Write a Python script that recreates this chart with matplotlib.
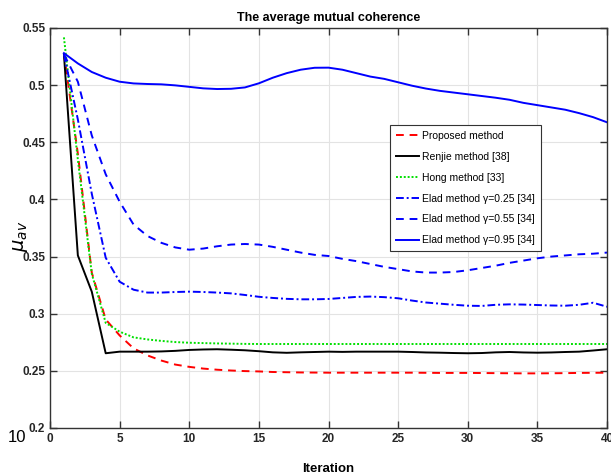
import matplotlib
matplotlib.use("Agg")
import matplotlib.pyplot as plt
from matplotlib import font_manager

names = {f.name for f in font_manager.fontManager.ttflist}
FAM = 'Liberation Sans Narrow' if 'Liberation Sans Narrow' in names else 'Liberation Sans'
plt.rcParams['font.family'] = [FAM, 'DejaVu Sans']

iterations = list(range(1, 41))

proposed = [0.528, 0.440, 0.336, 0.295, 0.281, 0.2697, 0.2635, 0.259, 0.2555, 0.2535,
            0.252, 0.251, 0.2503, 0.2498, 0.2495, 0.249, 0.2488, 0.2486, 0.2485, 0.2484,
            0.2484, 0.2484, 0.2484, 0.2484, 0.2484, 0.2484, 0.2483, 0.2482, 0.2482, 0.2482,
            0.2481, 0.248, 0.2479, 0.2478, 0.2478, 0.2479, 0.248, 0.2482, 0.2483, 0.2484]

renjie = [0.527, 0.351, 0.3193, 0.2654, 0.2668, 0.2668, 0.2668, 0.267, 0.2675, 0.2683,
          0.2687, 0.2689, 0.2685, 0.268, 0.2672, 0.2662, 0.2658, 0.2662, 0.2665, 0.2668,
          0.2666, 0.2668, 0.2668, 0.2668, 0.2668, 0.2665, 0.2661, 0.2659, 0.2656, 0.2654,
          0.2656, 0.2662, 0.2665, 0.2661, 0.2659, 0.2661, 0.2665, 0.2668, 0.2678, 0.2689]

hong = [0.5418, 0.4348, 0.335, 0.292, 0.2843, 0.2793, 0.2775, 0.2762, 0.2752, 0.2746,
        0.2743, 0.274, 0.2738, 0.2736, 0.2735, 0.2735, 0.2735, 0.2735, 0.2735, 0.2735,
        0.2735, 0.2735, 0.2735, 0.2735, 0.2735, 0.2735, 0.2735, 0.2735, 0.2735, 0.2735,
        0.2735, 0.2735, 0.2735, 0.2735, 0.2735, 0.2735, 0.2735, 0.2735, 0.2735, 0.2735]

elad025 = [0.527, 0.470, 0.405, 0.349, 0.328, 0.321, 0.3185, 0.3185, 0.319, 0.3193,
           0.319, 0.3185, 0.3178, 0.3164, 0.3148, 0.3138, 0.313, 0.3126, 0.3126, 0.3129,
           0.3138, 0.3147, 0.315, 0.3145, 0.3135, 0.3115, 0.3098, 0.3088, 0.3078, 0.307,
           0.3068, 0.3078, 0.3082, 0.308, 0.3076, 0.3072, 0.307, 0.3078, 0.3096, 0.3061]

elad055 = [0.527, 0.503, 0.456, 0.422, 0.398, 0.378, 0.368, 0.362, 0.358, 0.356,
           0.357, 0.359, 0.3605, 0.361, 0.3605, 0.3585, 0.356, 0.3535, 0.3515, 0.3505,
           0.348, 0.346, 0.3435, 0.341, 0.339, 0.337, 0.336, 0.336, 0.3365, 0.338,
           0.340, 0.342, 0.3445, 0.3465, 0.3485, 0.350, 0.351, 0.352, 0.3525, 0.3535]

elad095 = [0.528, 0.519, 0.5115, 0.5065, 0.503, 0.5015, 0.501, 0.5007, 0.4998, 0.4985,
           0.4972, 0.4966, 0.4968, 0.498, 0.5016, 0.5065, 0.5105, 0.5135, 0.5152, 0.5153,
           0.5135, 0.5105, 0.5075, 0.5055, 0.5025, 0.4995, 0.497, 0.495, 0.4935, 0.492,
           0.4905, 0.489, 0.4872, 0.4845, 0.4825, 0.4805, 0.4785, 0.4755, 0.472, 0.4675]

labels = ["Proposed method", "Renjie method [38]", "Hong method [33]",
          "Elad method γ=0.25 [34]", "Elad method γ=0.55 [34]",
          "Elad method γ=0.95 [34]"]

xticks = [0, 5, 10, 15, 20, 25, 30, 35, 40]
yticks = [0.2, 0.25, 0.3, 0.35, 0.4, 0.45, 0.5, 0.55]
yticklabels = ["0.2", "0.25", "0.3", "0.35", "0.4", "0.45", "0.5", "0.55"]

fig = plt.figure(figsize=(6.11, 4.75), dpi=100)
ax = fig.add_axes([50/611, 1-428/475, 557/611, 400/475])

lw = 1.4
ax.plot(iterations, proposed, color='#ff0000', ls=(0, (4, 3)), lw=lw, label=labels[0])
ax.plot(iterations, renjie, color='black', ls='-', lw=lw, label=labels[1])
ax.plot(iterations, hong, color='#00e000', ls=(0, (1, 1)), lw=lw, label=labels[2])
ax.plot(iterations, elad025, color='#0000ff', ls=(0, (4, 1.5, 1, 1.5)), lw=lw, label=labels[3])
ax.plot(iterations, elad055, color='#0000ff', ls=(0, (4, 3)), lw=lw, label=labels[4])
ax.plot(iterations, elad095, color='#0000ff', ls='-', lw=lw, label=labels[5])

ax.set_xlim(0, 40)
ax.set_ylim(0.2, 0.55)
ax.set_xticks(xticks)
ax.set_yticks(yticks)
ax.set_yticklabels(yticklabels)
ax.grid(True, color='#e3e3e3', lw=0.8)
ax.set_axisbelow(True)
ax.tick_params(direction='in', top=True, right=True, length=5, width=1,
               color='#333333', labelsize=8.5, labelcolor='#262626')
for lab in ax.get_xticklabels() + ax.get_yticklabels():
    lab.set_fontweight('bold')
for sp in ax.spines.values():
    sp.set_color('#333333')
    sp.set_linewidth(1.0)

ax.set_title("The average mutual coherence", fontsize=9, fontweight='bold', pad=5)
ax.set_xlabel("Iteration", fontsize=9.5, fontweight='bold', labelpad=13)
ax.set_ylabel("$\\mu_{av}$", fontsize=14)
ax.yaxis.set_label_coords(-0.036, 0.48)

leg = ax.legend(loc='upper right', bbox_to_anchor=(0.8815, 0.7575), fontsize=7.5,
                frameon=True, fancybox=False, edgecolor='#333333', framealpha=1,
                borderaxespad=0, handlelength=2.2, handletextpad=0.35,
                borderpad=0.55, labelspacing=1.05)
leg.get_frame().set_linewidth(0.8)

fig.text(0.013, 0.078, "10", fontsize=12, color='black', va='center')

fig.savefig("out.png", dpi=100)
